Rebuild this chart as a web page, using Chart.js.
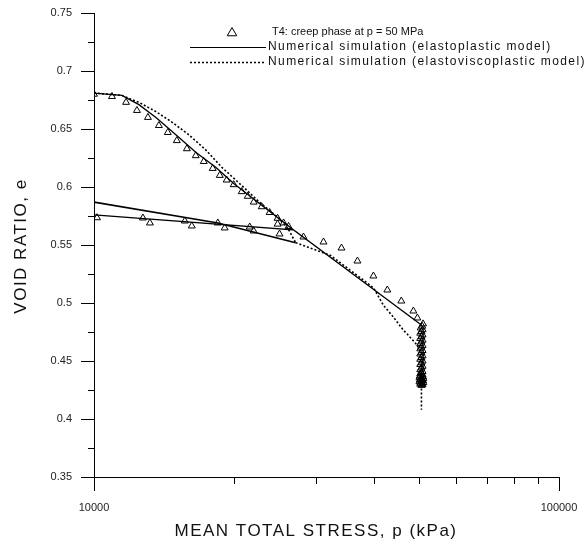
<!DOCTYPE html>
<html lang="en">
<head>
  <meta charset="UTF-8" />
  <title>Void ratio vs mean total stress</title>
  <script src="https://cdn.jsdelivr.net/npm/chart.js"></script>
  <style>
    html, body { margin: 0; padding: 0; background: #fff; }
    #wrap { width: 587px; height: 544px; position: relative; }
  </style>
</head>
<body>
  <div id="wrap"><canvas id="grafik"></canvas></div>

  <script>
    // test T4: loading, unloading, reloading, then creep at 50 MPa
    const testP = [10000, 10930, 11720, 12370, 13060, 13790, 14410, 15070, 15840, 16550, 17220, 18000,
      18640, 19290, 19970, 20780, 21410, 22050, 22940, 23860, 24820, 25570, 26210,
      24820, 21620, 18460, 15680, 12740, 10150,
      13190, 16230, 19100, 22050, 25060, 28220, 31160, 34060, 36860, 39890, 42740, 45800, 48620, 49590];
    const testE = [0.680, 0.678, 0.673, 0.666, 0.660, 0.653, 0.647, 0.640, 0.633, 0.627, 0.622, 0.616,
      0.610, 0.606, 0.602, 0.596, 0.592, 0.587, 0.583, 0.578, 0.573, 0.569, 0.566,
      0.568, 0.5655, 0.569, 0.5707, 0.5733, 0.5735,
      0.569, 0.5664, 0.5647, 0.5621, 0.5595, 0.5569, 0.5526, 0.5474, 0.5362, 0.5233, 0.5112, 0.5017, 0.4931, 0.4871];

    // creep phase at p = 50 MPa
    const creepP = [51000, 50800, 50400, 50900, 50600, 50300, 50900, 50600, 50300, 50900, 50600, 50300,
      50900, 50600, 50300, 50900, 50600, 50300, 50900, 50600, 50300, 50900, 50600, 50300,
      50900, 50600, 50300, 50900, 50600, 50300, 50900, 50200, 51000, 50600, 50100, 51100,
      50400, 50800, 50200, 51000, 50600, 50100, 51100, 50400, 50800, 50300, 50900, 50600];
    const creepE = [0.482, 0.480, 0.4785, 0.477, 0.4755, 0.474, 0.4725, 0.471, 0.4695, 0.468, 0.4665, 0.465,
      0.4635, 0.462, 0.4605, 0.459, 0.4575, 0.456, 0.4545, 0.453, 0.4515, 0.450, 0.4485, 0.447,
      0.4455, 0.444, 0.4425, 0.441, 0.440, 0.439, 0.438, 0.437, 0.4365, 0.436, 0.4355, 0.435,
      0.4345, 0.434, 0.4335, 0.433, 0.4325, 0.432, 0.4315, 0.431, 0.4305, 0.430, 0.4295, 0.429];

    // elastoplastic model
    const epP = [10000, 11480, 12490, 13590, 15000, 16550, 18270, 19970, 26870, 10000, 26870, 50600];
    const epE = [0.681, 0.679, 0.671, 0.660, 0.645, 0.630, 0.617, 0.603, 0.563, 0.576, 0.563, 0.481];

    // elastoviscoplastic model
    const evpP = [10000, 11480, 12490, 13590, 14700, 16000, 17390, 18830, 20690, 22820, 24830, 26060, 27140,
      18470, 10000, 18470, 27140,
      32270, 38760, 39910, 41930, 44020, 46190, 48990, 50600, 50600];
    const evpE = [0.681, 0.679, 0.673, 0.665, 0.656, 0.645, 0.632, 0.617, 0.602, 0.586, 0.574, 0.565, 0.552,
      0.569, 0.587, 0.569, 0.552,
      0.541, 0.517, 0.513, 0.498, 0.488, 0.477, 0.466, 0.458, 0.408];
    const evpCycle = [12, 16]; // unload/reload indices, drawn as a dense line

    const xTicks = [10000, 20000, 30000, 40000, 50000, 60000, 70000, 80000, 90000, 100000];
    const xTickLabels = { 10000: '10000', 100000: '100000' };
    const yTicks = [0.35, 0.4, 0.45, 0.5, 0.55, 0.6, 0.65, 0.7, 0.75];
    const yTickLabels = ['0.35', '0.4', '0.45', '0.5', '0.55', '0.6', '0.65', '0.7', '0.75'];
    const yMinor = [0.375, 0.425, 0.475, 0.525, 0.575, 0.625, 0.675, 0.725];

    const legendText = [
      'T4: creep phase at p = 50 MPa',
      'Numerical simulation (elastoplastic model)',
      'Numerical simulation (elastoviscoplastic model)'
    ];
    const xTitle = 'MEAN TOTAL STRESS, p (kPa)';
    const yTitle = 'VOID RATIO, e';

    const pts = (xs, ys) => xs.map((x, i) => ({ x, y: ys[i] }));
    const FONT = '"Liberation Sans", Arial, sans-serif';

    // tick marks, axis titles and legend
    const decor = {
      id: 'decor',
      afterDraw(chart) {
        const { ctx, scales: { x, y }, chartArea: a } = chart;
        ctx.save();
        ctx.strokeStyle = '#000';
        ctx.lineWidth = 1;
        ctx.beginPath();
        xTicks.forEach(v => {
          const px = Math.round(x.getPixelForValue(v)) + 0.5;
          const len = (v === 10000 || v === 100000) ? 14 : 7;
          ctx.moveTo(px, a.bottom);
          ctx.lineTo(px, a.bottom + len);
        });
        yTicks.forEach(v => {
          const py = Math.round(y.getPixelForValue(v)) + 0.5;
          ctx.moveTo(a.left - 13, py);
          ctx.lineTo(a.left, py);
        });
        yMinor.forEach(v => {
          const py = Math.round(y.getPixelForValue(v)) + 0.5;
          ctx.moveTo(a.left - 6, py);
          ctx.lineTo(a.left + 1, py);
        });
        ctx.stroke();

        // axis titles
        ctx.fillStyle = '#111';
        ctx.font = '17px ' + FONT;
        ctx.letterSpacing = '1.5px';
        ctx.textAlign = 'center';
        ctx.textBaseline = 'middle';
        ctx.fillText(xTitle, 316, 531);
        ctx.save();
        ctx.translate(21, 246);
        ctx.rotate(-Math.PI / 2);
        ctx.fillText(yTitle, 0, 0);
        ctx.restore();

        // legend
        ctx.textAlign = 'left';
        ctx.letterSpacing = '0px';
        ctx.fillStyle = 'rgba(0,0,0,0)';
        Chart.helpers.drawPoint(ctx, { pointStyle: 'triangle', radius: 5.5, borderWidth: 1 }, 232, 33);
        ctx.fillStyle = '#111';
        ctx.font = '11px ' + FONT;
        ctx.fillText(legendText[0], 272, 32);
        ctx.beginPath();
        ctx.moveTo(190, 47.5);
        ctx.lineTo(266, 47.5);
        ctx.stroke();
        ctx.setLineDash([2, 2]);
        ctx.lineWidth = 1.5;
        ctx.beginPath();
        ctx.moveTo(190, 62.5);
        ctx.lineTo(266, 62.5);
        ctx.stroke();
        ctx.setLineDash([]);
        ctx.font = '12px ' + FONT;
        ctx.letterSpacing = '1.4px';
        ctx.fillText(legendText[1], 268, 47);
        ctx.fillText(legendText[2], 268, 62);
        ctx.restore();
      }
    };

    new Chart(document.getElementById('grafik'), {
      type: 'scatter',
      data: {
        datasets: [
          {
            label: legendText[0],
            data: pts(testP.concat(creepP), testE.concat(creepE)),
            pointStyle: 'triangle',
            pointRadius: 4,
            borderWidth: 1,
            borderColor: '#000',
            backgroundColor: 'rgba(0,0,0,0)'
          },
          {
            label: legendText[1],
            data: pts(epP, epE),
            showLine: true,
            pointRadius: 0,
            borderColor: '#000',
            borderWidth: 1.3
          },
          {
            label: legendText[2],
            data: pts(evpP, evpE),
            showLine: true,
            pointRadius: 0,
            borderColor: '#000',
            borderWidth: 1.6,
            borderDash: [2, 2],
            segment: {
              borderDash: c => (c.p0DataIndex >= evpCycle[0] && c.p0DataIndex < evpCycle[1]) ? [] : [2, 2]
            }
          }
        ]
      },
      options: {
        responsive: true,
        maintainAspectRatio: false,
        animation: false,
        layout: { padding: { left: 0, right: 28, top: 13, bottom: 0 } },
        plugins: { legend: { display: false }, tooltip: { enabled: false } },
        scales: {
          x: {
            type: 'logarithmic',
            min: 10000,
            max: 100000,
            grid: { display: false, drawTicks: false },
            border: { display: true, color: '#000', width: 1 },
            afterBuildTicks: s => { s.ticks = xTicks.map(v => ({ value: v })); },
            afterFit: s => { s.height = 67; s.paddingLeft = 0; s.paddingRight = 0; },
            ticks: {
              autoSkip: false,
              maxRotation: 0,
              padding: 24,
              color: '#222',
              font: { family: FONT, size: 11 },
              callback: v => xTickLabels[v] || ''
            }
          },
          y: {
            min: 0.35,
            max: 0.75,
            grid: { display: false, drawTicks: false },
            border: { display: true, color: '#000', width: 1 },
            afterBuildTicks: s => { s.ticks = yTicks.map(v => ({ value: v })); },
            afterFit: s => { s.width = 94; s.paddingTop = 0; s.paddingBottom = 0; },
            ticks: {
              autoSkip: false,
              padding: 22,
              color: '#222',
              font: { family: FONT, size: 11 },
              callback: (v, i) => yTickLabels[i]
            }
          }
        }
      },
      plugins: [decor]
    });
  </script>
</body>
</html>
